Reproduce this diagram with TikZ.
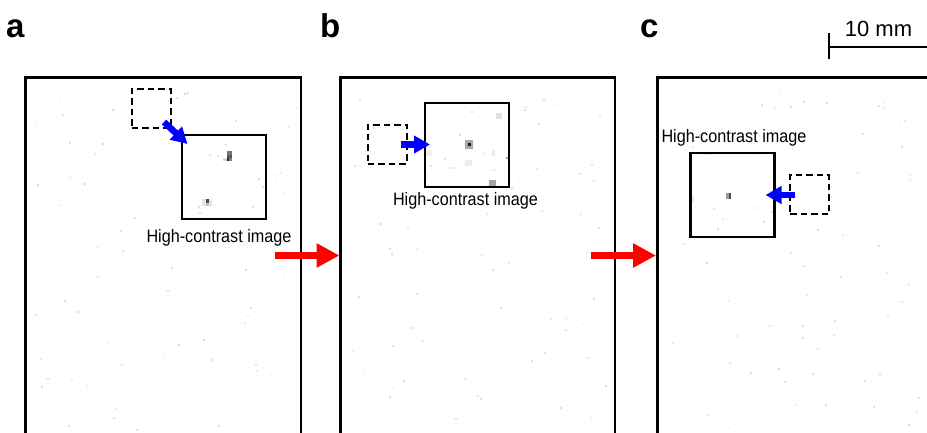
\documentclass[tikz,border=0pt]{standalone}
\usepackage{fontspec}
\setmainfont{Liberation Sans}
\newfontfamily\narrowsans[FakeStretch=0.9]{Liberation Sans}
\usetikzlibrary{arrows.meta}

\begin{document}
\begin{tikzpicture}[x=1pt,y=-1pt,
  panel/.style={line width=2.7pt},
  zoombox/.style={draw, line width=2.1pt, minimum size=84pt, inner sep=0pt, outer sep=0pt},
  srcbox/.style={draw, line width=2pt, dash pattern=on 6.5pt off 4pt, minimum size=39pt, inner sep=0pt, outer sep=0pt},
  moveto/.style={blue, line width=6.5pt, -{Triangle[length=16pt,width=17pt]}},
  nextstep/.style={red, line width=7pt, -{Triangle[length=23pt,width=23pt]}},
  caption/.style={font=\narrowsans\fontsize{18}{20}\selectfont, anchor=base, inner sep=0pt},
  letter/.style={font=\fontsize{33}{36}\selectfont\bfseries, anchor=base west, inner sep=0pt},
  speck/.style={fill=black!#1, draw=none}
]
\useasboundingbox (0,0) rectangle (927,433);

% faint background speckle in the three frames
\pgfmathsetseed{17}
\foreach \xl/\xr in {30/296, 345/610, 662/922}{
  \foreach \i in {1,...,70}{
    \pgfmathsetmacro\sx{\xl+rnd*(\xr-\xl)}
    \pgfmathsetmacro\sy{84+rnd*345}
    \pgfmathsetmacro\sg{int(5+rnd*10)}
    \fill[speck=\sg] (\sx,\sy) rectangle ++(2,2);
  }
}

% bright pixels inside the enlarged windows
\fill[black!55] (226.5,151.5) rectangle (232,155);
\fill[black!65] (226.5,155) rectangle (232,158.5);
\fill[black!15] (222.5,158.5) rectangle (226.5,161.5);
\fill[black!85] (226.5,158.5) rectangle (229,161.5);
\fill[black!50] (229,158.5) rectangle (232,161.5);
\fill[black!10] (202,199.5) rectangle (211.5,206);
\fill[black!70] (206,199.5) rectangle (209,203);
\fill[black!25] (206,203) rectangle (209,206);

\fill[black!35] (465,140.5) rectangle (473,149.5);
\fill[black!90] (468,143) rectangle (471,146.5);
\fill[black!12] (496,113) rectangle (501.5,119.5);
\fill[black!35] (488.5,180) rectangle (496,186.5);
\fill[black!6] (426,150) rectangle (431.5,156);
\fill[black!7] (465,160) rectangle (471.5,166);
\fill[black!7] (449,167) rectangle (455,169.5);
\fill[black!8] (491.5,150) rectangle (495,156);
\fill[black!40] (506,157) rectangle (509,159.5);

\fill[black!40] (725.5,193) rectangle (728.5,199.5);
\fill[black!70] (728.5,193) rectangle (731,199.5);
\fill[black!8] (704,152) rectangle (711,155.5);
\fill[black!8] (751,152) rectangle (754,155.5);
\fill[black!8] (691,197) rectangle (693.5,202);

% frames (open at the bottom)
\draw[panel] (25.5,445) -- (25.5,77.5) -- (301,77.5) -- (301,445);
\draw[panel] (340.5,445) -- (340.5,77.5) -- (615,77.5) -- (615,445);
\draw[panel] (657.5,445) -- (657.5,77.5) -- (940,77.5);

% panel letters
\node[letter] (la) at (6,38) {a};
\node[letter] (lb) at (320,38) {b};
\node[letter] (lc) at (640,38) {c};

% scale bar
\draw[line width=2.6pt] (829,33) -- (829,59);
\draw[line width=2.6pt] (829,47) -- (935,47);
\node[font=\fontsize{22}{24}\selectfont, anchor=base, inner sep=0pt] (scale) at (878.5,37) {10 mm};

% ---- panel a ----
\node[srcbox] (sa) at (151.2,109) {};
\node[zoombox] (za) at (223.8,177.3) {};
\node[caption] (ca) at (219,243) {High-contrast image};
\coordinate (a-from) at (164,122);
\coordinate (a-to) at (187.5,144);
\draw[moveto] (a-from) -- (a-to);

% ---- panel b ----
\node[srcbox] (sb) at (387.2,144.5) {};
\node[zoombox] (zb) at (467,145) {};
\node[caption] (cb) at (465.5,205.5) {High-contrast image};
\coordinate (b-from) at (400.5,144.5);
\coordinate (b-to) at (430,144.5);
\draw[moveto] (b-from) -- (b-to);

% ---- panel c ----
\node[srcbox] (sc) at (809.7,194.7) {};
\node[zoombox] (zc) at (732.5,194.7) {};
\node[caption] (cc) at (734,142.7) {High-contrast image};
\coordinate (c-from) at (795,195);
\coordinate (c-to) at (765.5,195);
\draw[moveto] (c-from) -- (c-to);

% steps between the frames
\coordinate (ab-from) at (275,255.5);
\coordinate (ab-to) at (339.5,255.5);
\coordinate (bc-from) at (591,255.5);
\coordinate (bc-to) at (656,255.5);
\draw[nextstep] (ab-from) -- (ab-to);
\draw[nextstep] (bc-from) -- (bc-to);
\end{tikzpicture}
\end{document}
